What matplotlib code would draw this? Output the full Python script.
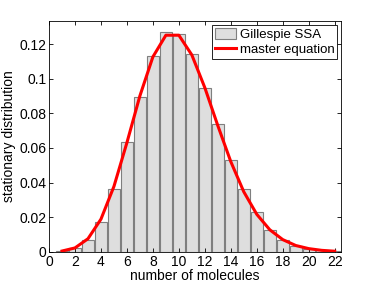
import numpy as np
import matplotlib
matplotlib.use('Agg')
import matplotlib.pyplot as plt

plt.rcParams['font.family'] = ['Liberation Sans', 'DejaVu Sans']

# Gillespie SSA histogram
n = [1, 2, 3, 4, 5, 6, 7, 8, 9, 10, 11, 12, 13, 14, 15, 16, 17, 18, 19, 20, 21, 22]
ssa = [0.0005, 0.0023, 0.0069, 0.0175, 0.0366, 0.0637, 0.0892, 0.1132, 0.127, 0.126, 0.1145,
       0.0949, 0.074, 0.0531, 0.0366, 0.0232, 0.0128, 0.0069, 0.0036, 0.0017, 0.0010, 0.0006]
# master equation solution
master = [0.0005, 0.0023, 0.0076, 0.0189, 0.0378, 0.0631, 0.0901, 0.1126, 0.1251, 0.1251, 0.1137,
          0.0948, 0.0729, 0.0521, 0.0347, 0.0217, 0.0128, 0.0071, 0.0037, 0.0019, 0.0009, 0.0004]

xticks = list(range(0, 23, 2))
yticks = [0, 0.02, 0.04, 0.06, 0.08, 0.1, 0.12]
yticklabels = ['0', '0.02', '0.04', '0.06', '0.08', '0.1', '0.12']

fig = plt.figure(figsize=(3.77, 2.84), dpi=100)
ax = fig.add_axes([0.130, 0.113, 0.775, 0.813])

bars = ax.bar(n, ssa, width=0.9, color='#dedede', edgecolor='#7f7f7f', linewidth=0.8, label='Gillespie SSA')
line, = ax.plot(n, master, color='#ff0000', linewidth=2.2, label='master equation')

ax.set_xlim(0, 22.5)
ax.set_ylim(0, 0.1333)
ax.set_xticks(xticks)
ax.set_yticks(yticks)
ax.set_yticklabels(yticklabels)
ax.tick_params(direction='in', top=True, right=True, labelsize=10, length=3, width=0.6, pad=2)
for s in ax.spines.values():
	s.set_linewidth(0.6)

ax.set_xlabel('number of molecules', fontsize=10, labelpad=0)
ax.set_ylabel('stationary distribution', fontsize=10, labelpad=2)

leg = ax.legend([bars, line], ['Gillespie SSA', 'master equation'], loc='upper right', fontsize=9.5,
                fancybox=False, framealpha=1, edgecolor='black', borderpad=0.2, labelspacing=0.15,
                handlelength=1.6, handleheight=1.0, handletextpad=0.3, borderaxespad=0.3)
leg.get_frame().set_linewidth(0.6)

fig.savefig('out.png', dpi=100)
